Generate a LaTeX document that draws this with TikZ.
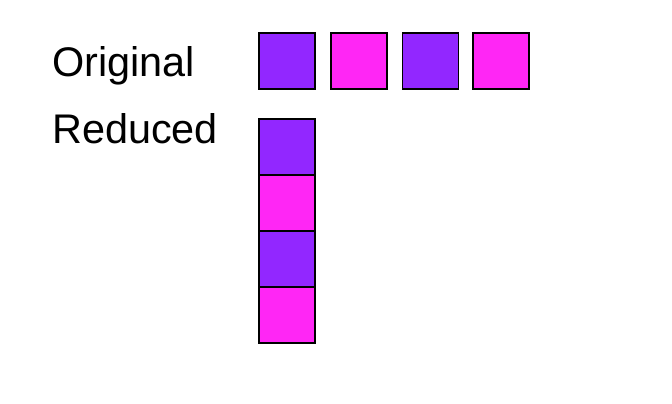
\documentclass[tikz,border=0pt]{standalone}
\usepackage{fontspec}
\setmainfont{Liberation Sans}
\definecolor{cpurple}{RGB}{146,39,255}
\definecolor{cmagenta}{RGB}{255,38,245}
\begin{document}
\begin{tikzpicture}[x=1pt,y=-1pt,
  cell/.style={draw=black,line width=1.6pt,minimum width=56pt,minimum height=56pt,inner sep=0pt,outer sep=0pt,anchor=north west},
  lbl/.style={inner sep=0pt,anchor=base west,font=\fontsize{41.4}{44}\selectfont}]
\useasboundingbox (0,0) rectangle (672,404);
\node[lbl] (orig) at (52,77) {Original};
\node[lbl] (red) at (52,143.5) {Reduced};
\node[cell,fill=cpurple] (o1) at (259,33) {};
\node[cell,fill=cmagenta] (o2) at (331,33) {};
\node[cell,fill=cpurple] (o3) at (402.5,33) {};
\node[cell,fill=cmagenta] (o4) at (473,33) {};
\node[cell,fill=cpurple] (r1) at (259,119) {};
\node[cell,fill=cmagenta] (r2) at (259,175) {};
\node[cell,fill=cpurple] (r3) at (259,231) {};
\node[cell,fill=cmagenta] (r4) at (259,287) {};
\end{tikzpicture}
\end{document}
